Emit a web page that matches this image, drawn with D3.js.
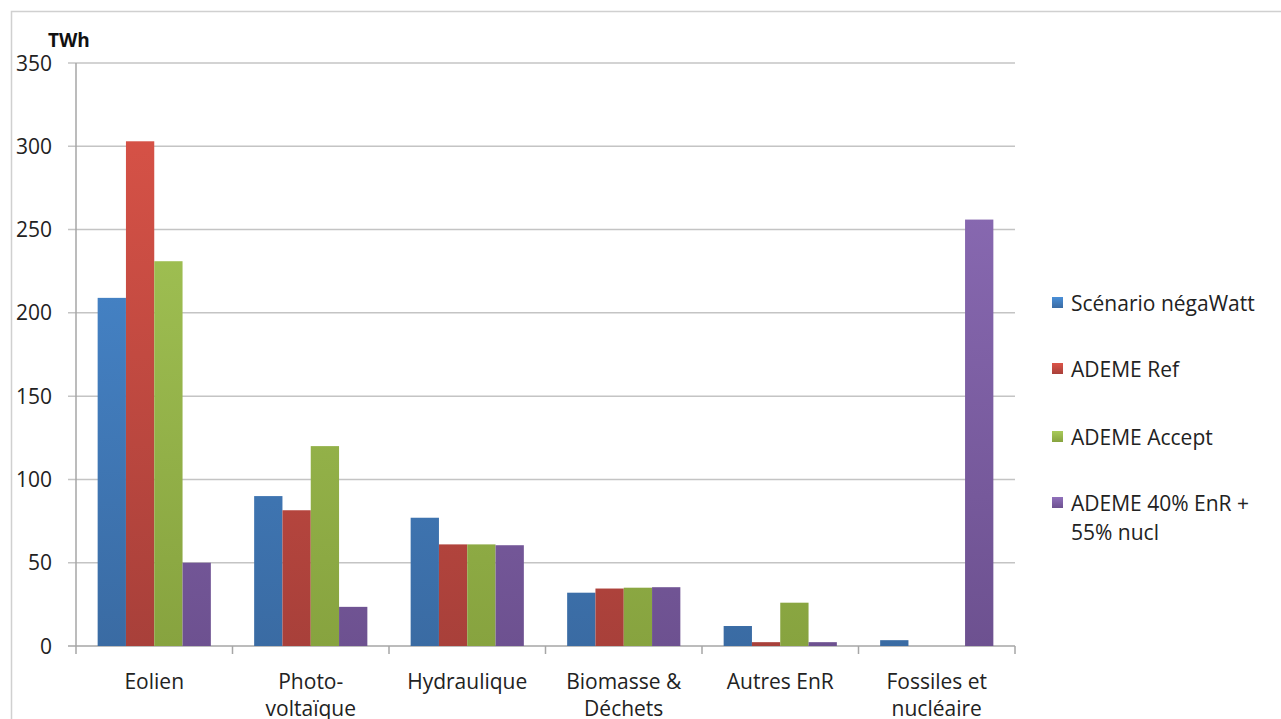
<!DOCTYPE html>
<html><head><meta charset="utf-8">
<script src="https://cdn.jsdelivr.net/npm/d3@7"></script>
<style>html,body{margin:0;padding:0;background:#fff;}</style>
</head><body>
<svg id="c" width="1281" height="719"></svg>
<script>
const categories = [["Eolien"], ["Photo-", "voltaïque"], ["Hydraulique"], ["Biomasse &", "Déchets"], ["Autres EnR"], ["Fossiles et", "nucléaire"]];
const seriesNames = [["Scénario négaWatt"], ["ADEME Ref"], ["ADEME Accept"], ["ADEME 40% EnR +", "55% nucl"]];
const negaWatt = [209, 90, 77, 32, 12, 3.5];
const ademeRef = [303, 81.5, 61, 34.5, 2.3, 0];
const ademeAccept = [231, 120, 61, 35, 26, 0];
const ademe40 = [50, 23.5, 60.5, 35.3, 2.3, 256];
const yTicks = [0, 50, 100, 150, 200, 250, 300, 350];
const colorsTop = ["#4a8fd8", "#dc5448", "#a9cb5a", "#9070bb"];
const colorsBot = ["#3a6ba3", "#a8403a", "#87a33f", "#6d5190"];

const series = [negaWatt, ademeRef, ademeAccept, ademe40];
const svg = d3.select("#c");
const font = "'Open Sans', sans-serif";
const fs = 21;

// outer frame
svg.append("rect").attr("x", 11.5).attr("y", 11.5).attr("width", 1300).attr("height", 800)
  .attr("fill", "none").attr("stroke", "#d0d0d0").attr("stroke-width", 1.5);

const x0 = 76, x1 = 1015, yTop = 63, yBot = 646;
const x = d3.scaleBand().domain(d3.range(categories.length)).range([x0, x1]);
const y = d3.scaleLinear().domain([0, 350]).range([yBot, yTop]);

// gradients
const defs = svg.append("defs");
colorsTop.forEach((c, i) => {
  const g = defs.append("linearGradient").attr("id", "g" + i).attr("x1", 0).attr("y1", 0).attr("x2", 0).attr("y2", 1);
  g.append("stop").attr("offset", "0%").attr("stop-color", c);
  g.append("stop").attr("offset", "100%").attr("stop-color", colorsBot[i]);
  const gu = defs.append("linearGradient").attr("id", "gu" + i).attr("gradientUnits", "userSpaceOnUse")
    .attr("x1", 0).attr("y1", yTop).attr("x2", 0).attr("y2", yBot);
  gu.append("stop").attr("offset", "0%").attr("stop-color", c);
  gu.append("stop").attr("offset", "100%").attr("stop-color", colorsBot[i]);
});

// gridlines
svg.append("g").selectAll("line").data(yTicks).join("line")
  .attr("x1", x0 - 8).attr("x2", x1).attr("y1", d => y(d)).attr("y2", d => y(d))
  .attr("stroke", d => d === 0 ? "#a6a6a6" : "#c4c4c4").attr("stroke-width", 1.5);

// y axis line
svg.append("line").attr("x1", x0).attr("x2", x0).attr("y1", yTop).attr("y2", yBot)
  .attr("stroke", "#a6a6a6").attr("stroke-width", 1.5);

// x ticks
svg.append("g").selectAll("line").data(d3.range(categories.length + 1)).join("line")
  .attr("x1", d => x0 + d * x.bandwidth()).attr("x2", d => x0 + d * x.bandwidth())
  .attr("y1", yBot).attr("y2", yBot + 8).attr("stroke", "#a6a6a6").attr("stroke-width", 1.5);

// y labels
svg.append("g").selectAll("text").data(yTicks).join("text")
  .attr("x", 52).attr("y", d => y(d) + 7.5).attr("text-anchor", "end")
  .attr("font-family", font).attr("font-size", fs).attr("fill", "#222").text(d => d);

svg.append("text").attr("x", 48).attr("y", 47).attr("font-family", font).attr("font-weight", "bold")
  .attr("font-size", 19).attr("fill", "#111").text("TWh");

// bars
const barW = 28.3;
series.forEach((s, si) => {
  svg.append("g").selectAll("rect").data(s).join("rect")
    .attr("x", (d, i) => x(i) + x.bandwidth() / 2 - 2 * barW + si * barW)
    .attr("width", barW)
    .attr("y", d => y(d))
    .attr("height", d => yBot - y(d))
    .attr("fill", "url(#gu" + si + ")");
});

// category labels
const cl = svg.append("g");
categories.forEach((lines, i) => {
  const cx = x(i) + x.bandwidth() / 2;
  const t = cl.append("text").attr("x", cx).attr("y", 689)
    .attr("text-anchor", "middle").attr("font-family", font).attr("font-size", fs).attr("fill", "#222");
  lines.forEach((l, j) => t.append("tspan").attr("x", cx).attr("dy", j ? 27 : 0).text(l));
});

// legend
const legY = [303, 369, 437, 503];
seriesNames.forEach((lines, i) => {
  svg.append("rect").attr("x", 1052).attr("y", legY[i] - 6).attr("width", 11).attr("height", 11)
    .attr("fill", "url(#g" + i + ")");
  const t = svg.append("text").attr("x", 1071).attr("y", legY[i] + 8)
    .attr("font-family", font).attr("font-size", fs).attr("fill", "#222");
  lines.forEach((l, j) => t.append("tspan").attr("x", 1071).attr("dy", j ? 29 : 0).text(l));
});
</script>
</body></html>
